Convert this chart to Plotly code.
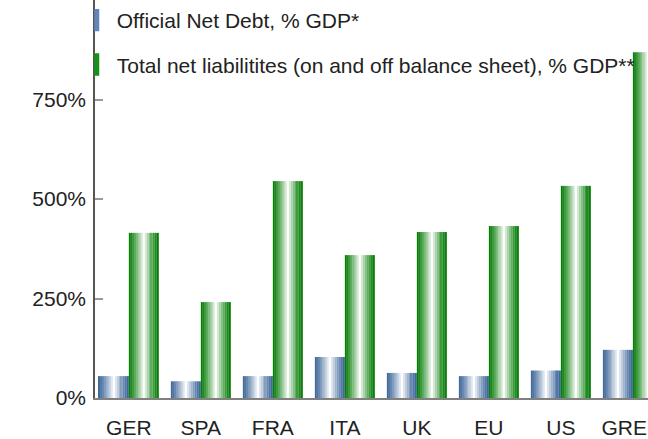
import plotly.graph_objects as go

countries = ["GER", "SPA", "FRA", "ITA", "UK", "EU", "US", "GRE"]
x_tick_labels = ["GER", "SPA", "FRA", "ITA", "UK", "EU", "US", "GRE\u00a0\u00a0\u00a0"]
official_net_debt = [55, 42, 55, 103, 63, 55, 69, 121]
total_net_liabilities = [415, 241, 545, 359, 417, 432, 533, 869]
y_tick_values = [0, 250, 500, 750]
y_tick_labels = ["0%", "250%", "500%", "750%"]

series_names = ["Official Net Debt, % GDP*",
                "Total net liabilitites (on and off balance sheet), % GDP**"]
dark_colors = [(58, 100, 152), (0, 122, 0)]
N_SLICES = 15

FONT = "Liberation Sans, Arial, sans-serif"
FS = 21


def shade(rgb, t):
    # horizontal gradient: dark at edges, white around the middle
    w = max(0.0, 1 - abs(2 * t - 1))
    w = w ** 1.3
    r, g, b = (int(round(c + (255 - c) * w)) for c in rgb)
    return f"rgb({r},{g},{b})"


fig = go.Figure()
for s, values in enumerate([official_net_debt, total_net_liabilities]):
    for i in range(N_SLICES):
        t = (i + 0.5) / N_SLICES
        fig.add_trace(go.Bar(
            x=countries, y=values,
            marker=dict(color=shade(dark_colors[s], t), line=dict(width=0)),
            showlegend=False, hoverinfo="skip",
        ))

legend_colors = ["rgb(95,135,185)", "rgb(25,145,25)"]
for s in range(2):
    fig.add_trace(go.Scatter(
        x=[None], y=[None], mode="markers", name=series_names[s],
        legendgroup=f"g{s}",
        marker=dict(symbol="line-ns", size=18,
                    line=dict(width=8, color=legend_colors[s]),
                    color=legend_colors[s]),
    ))

fig.update_layout(
    width=648, height=439,
    margin=dict(l=95, r=0, t=0, b=41, autoexpand=False),
    paper_bgcolor="white", plot_bgcolor="white",
    barmode="group", bargap=0.167, bargroupgap=0,
    font=dict(family=FONT, size=FS, color="#222222"),
    showlegend=True,
    legend=dict(x=-0.033, y=1.0, xanchor="left", yanchor="top",
                bgcolor="rgba(0,0,0,0)", tracegroupgap=14,
                font=dict(family=FONT, size=FS, color="#222222"),
                itemsizing="trace"),
)
fig.update_xaxes(
    range=[-0.47, 7.21], showline=True, linecolor="#808080", linewidth=2,
    tickmode="array", tickvals=countries, ticktext=x_tick_labels,
    ticks="", showgrid=False, zeroline=False, ticklabelstandoff=10,
    automargin=False,
    tickfont=dict(family=FONT, size=FS, color="#222222"),
)
fig.update_yaxes(
    range=[0, 1000], tickmode="array", tickvals=y_tick_values,
    ticktext=y_tick_labels,
    showline=True, linecolor="#555555", linewidth=1.5,
    ticks="inside", ticklen=8, tickwidth=2, tickcolor="#999999",
    showgrid=False, zeroline=False, ticklabelstandoff=3,
    automargin=False,
    tickfont=dict(family=FONT, size=FS, color="#222222"),
)

fig.write_html(
    "out.html",
    config={"displayModeBar": False},
    post_script="document.body.style.margin='0';document.body.style.padding='0';",
)
